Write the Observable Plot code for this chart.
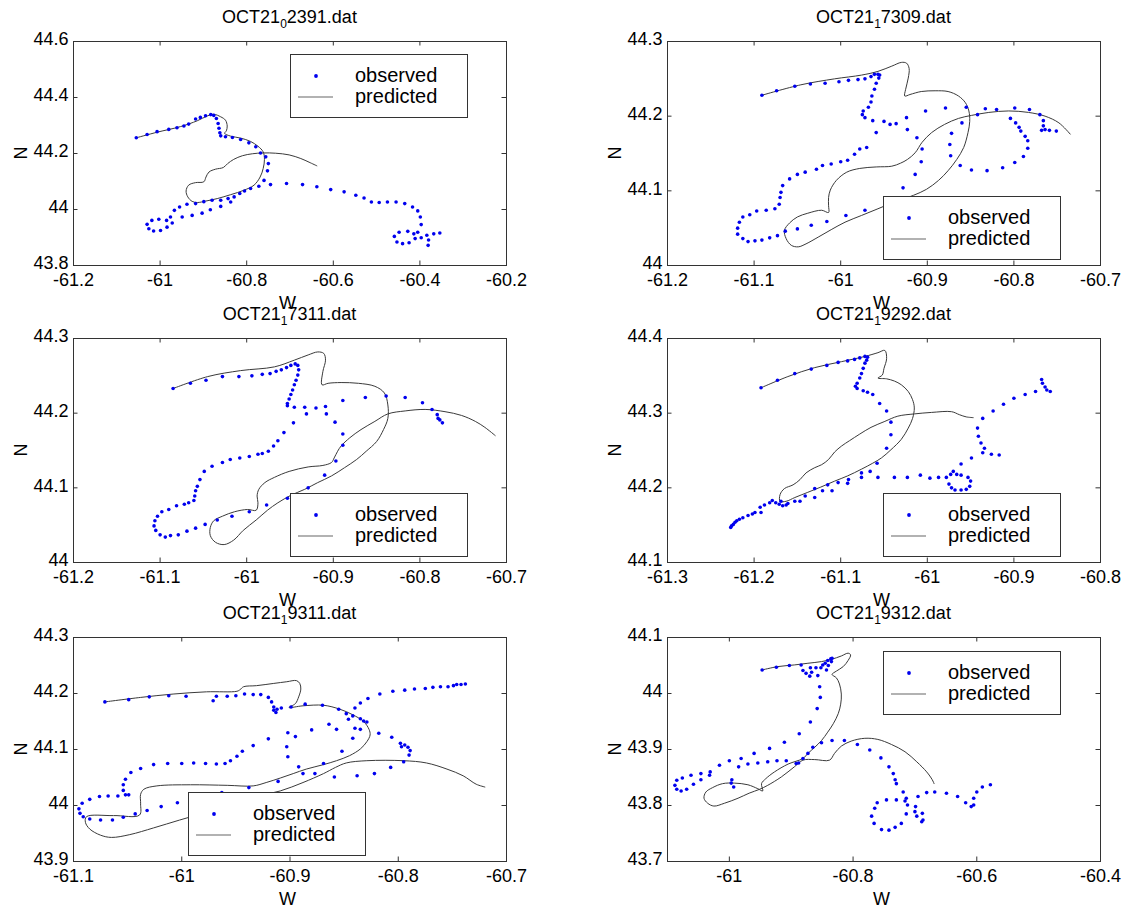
<!DOCTYPE html>
<html><head><meta charset="utf-8">
<script src="https://cdn.jsdelivr.net/npm/d3@7"></script>
<script src="https://cdn.jsdelivr.net/npm/@observablehq/plot@0.6"></script>
<style>
body{margin:0;background:#fff;}
#page{position:relative;width:1124px;height:911px;overflow:hidden;background:#fff;font-family:"Liberation Sans",Arial,Helvetica,sans-serif;}
#overlay{position:absolute;left:0;top:0;pointer-events:none;}
</style></head><body><div id="page"></div>
<script>
// ---------- titles ----------
const titleMain = ["OCT21", "OCT21", "OCT21", "OCT21", "OCT21", "OCT21"];
const titleSub  = ["0", "1", "1", "1", "1", "1"];
const titleRest = ["2391.dat", "7309.dat", "7311.dat", "9292.dat", "9311.dat", "9312.dat"];
const legendLabels = ["observed", "predicted"];
const xLabel = "W", yLabel = "N";

// ---------- axes ----------
const xDomains = [[-61.2, -60.2], [-61.2, -60.7], [-61.2, -60.7], [-61.3, -60.8], [-61.1, -60.7], [-61.1, -60.4]];
const yDomains = [[43.8, 44.6], [44.0, 44.3], [44.0, 44.3], [44.1, 44.4], [43.9, 44.3], [43.7, 44.1]];
const xTicks = [
  [-61.2, -61, -60.8, -60.6, -60.4, -60.2],
  [-61.2, -61.1, -61, -60.9, -60.8, -60.7],
  [-61.2, -61.1, -61, -60.9, -60.8, -60.7],
  [-61.3, -61.2, -61.1, -61, -60.9, -60.8],
  [-61.1, -61, -60.9, -60.8, -60.7],
  [-61, -60.8, -60.6, -60.4]
];
const yTicks = [
  [43.8, 44, 44.2, 44.4, 44.6],
  [44, 44.1, 44.2, 44.3],
  [44, 44.1, 44.2, 44.3],
  [44.1, 44.2, 44.3, 44.4],
  [43.9, 44, 44.1, 44.2, 44.3],
  [43.7, 43.8, 43.9, 44, 44.1]
];

// ---------- data: [W lon, N lat] ----------
const obs1 = [[-61.055,44.256],[-61.030,44.268],[-61.007,44.278],[-60.980,44.286],[-60.961,44.292],[-60.945,44.298],[-60.934,44.305],[-60.918,44.323],[-60.907,44.329],[-60.895,44.335],[-60.883,44.339],[-60.876,44.336],[-60.870,44.325],[-60.866,44.307],[-60.864,44.290],[-60.862,44.274],[-60.860,44.263],[-60.849,44.260],[-60.833,44.257],[-60.814,44.250],[-60.795,44.238],[-60.779,44.224],[-60.768,44.202],[-60.756,44.188],[-60.750,44.164],[-60.752,44.138],[-60.760,44.104],[-60.772,44.083],[-60.791,44.075],[-60.805,44.066],[-60.816,44.057],[-60.829,44.045],[-60.843,44.039],[-60.860,44.033],[-60.880,44.033],[-60.899,44.028],[-60.918,44.021],[-60.938,44.019],[-60.955,44.009],[-60.967,43.997],[-60.976,43.973],[-60.985,43.961],[-61.003,43.965],[-61.019,43.961],[-61.030,43.947],[-61.026,43.931],[-61.015,43.923],[-60.999,43.925],[-60.984,43.937],[-60.972,43.952],[-60.949,43.973],[-60.926,43.979],[-60.903,43.987],[-60.884,43.999],[-60.860,44.011],[-60.837,44.027],[-60.745,44.089],[-60.708,44.093],[-60.671,44.089],[-60.638,44.081],[-60.606,44.071],[-60.575,44.063],[-60.548,44.051],[-60.529,44.041],[-60.512,44.027],[-60.494,44.025],[-60.475,44.027],[-60.455,44.027],[-60.435,44.021],[-60.417,44.009],[-60.405,43.995],[-60.399,43.973],[-60.397,43.946],[-60.405,43.919],[-60.414,43.913],[-60.428,43.922],[-60.448,43.919],[-60.459,43.904],[-60.453,43.884],[-60.440,43.878],[-60.425,43.881],[-60.411,43.896],[-60.397,43.899],[-60.384,43.908],[-60.380,43.891],[-60.381,43.872],[-60.368,43.913],[-60.354,43.916]];
const pred1 = [[-61.055,44.256],[-61.007,44.276],[-60.953,44.296],[-60.914,44.317],[-60.891,44.334],[-60.876,44.340],[-60.860,44.331],[-60.849,44.319],[-60.845,44.298],[-60.847,44.281],[-60.851,44.272],[-60.837,44.262],[-60.814,44.255],[-60.791,44.243],[-60.774,44.226],[-60.762,44.206],[-60.759,44.179],[-60.762,44.146],[-60.769,44.116],[-60.783,44.087],[-60.806,44.069],[-60.837,44.053],[-60.868,44.039],[-60.895,44.030],[-60.914,44.025],[-60.926,44.029],[-60.936,44.045],[-60.940,44.066],[-60.934,44.087],[-60.918,44.096],[-60.899,44.099],[-60.894,44.116],[-60.887,44.134],[-60.872,44.144],[-60.854,44.150],[-60.844,44.164],[-60.830,44.179],[-60.810,44.192],[-60.787,44.199],[-60.762,44.202],[-60.733,44.201],[-60.702,44.195],[-60.675,44.182],[-60.656,44.169],[-60.638,44.156]];

const obs2 = [[-61.091,44.228],[-61.074,44.234],[-61.053,44.240],[-61.035,44.243],[-61.018,44.244],[-61.002,44.246],[-60.991,44.248],[-60.980,44.249],[-60.972,44.250],[-60.965,44.253],[-60.961,44.256],[-60.957,44.256],[-60.955,44.255],[-60.956,44.251],[-60.959,44.244],[-60.961,44.236],[-60.964,44.227],[-60.965,44.219],[-60.968,44.212],[-60.974,44.207],[-60.975,44.202],[-60.972,44.198],[-60.963,44.194],[-60.950,44.193],[-60.943,44.189],[-60.936,44.190],[-60.924,44.198],[-60.923,44.182],[-60.912,44.171],[-60.906,44.156],[-60.907,44.139],[-60.914,44.122],[-60.928,44.104],[-60.902,44.207],[-60.879,44.211],[-60.855,44.212],[-60.860,44.191],[-60.872,44.177],[-60.874,44.162],[-60.873,44.147],[-60.862,44.134],[-60.849,44.128],[-60.831,44.127],[-60.813,44.131],[-60.799,44.138],[-60.789,44.146],[-60.784,44.157],[-60.784,44.167],[-60.787,44.173],[-60.792,44.180],[-60.794,44.185],[-60.798,44.191],[-60.804,44.197],[-60.833,44.210],[-60.820,44.209],[-60.799,44.211],[-60.782,44.209],[-60.770,44.202],[-60.766,44.194],[-60.766,44.187],[-60.768,44.181],[-60.764,44.182],[-60.759,44.181],[-60.751,44.180],[-60.842,44.202],[-60.959,44.178],[-60.970,44.158],[-60.978,44.156],[-60.984,44.149],[-60.992,44.141],[-61.000,44.139],[-61.011,44.136],[-61.021,44.134],[-61.028,44.129],[-61.041,44.125],[-61.050,44.122],[-61.059,44.116],[-61.067,44.107],[-61.069,44.098],[-61.070,44.091],[-61.071,44.082],[-61.076,44.076],[-61.086,44.074],[-61.097,44.073],[-61.105,44.068],[-61.113,44.065],[-61.117,44.058],[-61.119,44.050],[-61.119,44.042],[-61.113,44.036],[-61.107,44.032],[-61.099,44.033],[-61.091,44.034],[-61.082,44.037],[-61.073,44.040],[-61.064,44.046],[-61.050,44.049],[-61.034,44.054],[-61.016,44.059],[-60.994,44.067],[-60.972,44.074]];
const pred2 = [[-61.091,44.228],[-61.046,44.242],[-61.007,44.250],[-60.976,44.255],[-60.957,44.260],[-60.941,44.267],[-60.930,44.272],[-60.924,44.271],[-60.921,44.264],[-60.922,44.251],[-60.925,44.236],[-60.926,44.227],[-60.920,44.229],[-60.907,44.233],[-60.891,44.234],[-60.876,44.233],[-60.864,44.227],[-60.856,44.218],[-60.852,44.207],[-60.851,44.193],[-60.853,44.178],[-60.858,44.158],[-60.866,44.142],[-60.876,44.127],[-60.887,44.114],[-60.901,44.102],[-60.916,44.094],[-60.938,44.085],[-60.957,44.076],[-60.976,44.067],[-60.995,44.058],[-61.011,44.048],[-61.026,44.038],[-61.040,44.029],[-61.049,44.025],[-61.057,44.027],[-61.063,44.036],[-61.065,44.047],[-61.059,44.057],[-61.050,44.065],[-61.038,44.070],[-61.022,44.074],[-61.014,44.071],[-61.014,44.080],[-61.014,44.091],[-61.012,44.101],[-61.005,44.114],[-60.993,44.125],[-60.978,44.130],[-60.959,44.132],[-60.941,44.133],[-60.931,44.137],[-60.923,44.142],[-60.914,44.151],[-60.906,44.165],[-60.895,44.178],[-60.880,44.189],[-60.864,44.197],[-60.849,44.201],[-60.829,44.205],[-60.806,44.207],[-60.783,44.205],[-60.764,44.200],[-60.748,44.191],[-60.735,44.176]];

const obs3 = [[-61.085,44.233],[-61.065,44.240],[-61.047,44.244],[-61.028,44.249],[-61.009,44.249],[-60.994,44.250],[-60.982,44.252],[-60.973,44.253],[-60.966,44.256],[-60.960,44.258],[-60.954,44.261],[-60.949,44.264],[-60.944,44.266],[-60.941,44.264],[-60.940,44.258],[-60.941,44.251],[-60.943,44.244],[-60.945,44.238],[-60.947,44.231],[-60.949,44.225],[-60.951,44.219],[-60.953,44.213],[-60.953,44.210],[-60.945,44.208],[-60.933,44.208],[-60.931,44.199],[-60.920,44.207],[-60.909,44.209],[-60.908,44.199],[-60.898,44.188],[-60.889,44.172],[-60.889,44.157],[-60.897,44.136],[-60.910,44.117],[-60.929,44.100],[-60.889,44.217],[-60.863,44.221],[-60.839,44.223],[-60.817,44.221],[-60.797,44.214],[-60.786,44.205],[-60.780,44.198],[-60.779,44.193],[-60.777,44.191],[-60.774,44.187],[-60.946,44.187],[-60.957,44.174],[-60.964,44.163],[-60.969,44.156],[-60.975,44.149],[-60.982,44.146],[-60.987,44.145],[-60.997,44.142],[-61.008,44.140],[-61.019,44.138],[-61.028,44.134],[-61.040,44.129],[-61.049,44.122],[-61.054,44.111],[-61.057,44.102],[-61.059,44.096],[-61.060,44.089],[-61.061,44.083],[-61.067,44.080],[-61.072,44.078],[-61.081,44.076],[-61.090,44.071],[-61.098,44.068],[-61.103,44.062],[-61.106,44.056],[-61.107,44.049],[-61.105,44.043],[-61.100,44.037],[-61.094,44.034],[-61.088,44.036],[-61.079,44.037],[-61.069,44.042],[-61.059,44.046],[-61.048,44.051],[-61.034,44.057],[-61.017,44.062],[-60.997,44.068],[-60.977,44.077],[-60.953,44.086]];
const pred3 = [[-61.085,44.233],[-61.045,44.249],[-61.007,44.257],[-60.968,44.262],[-60.945,44.271],[-60.929,44.278],[-60.918,44.282],[-60.911,44.280],[-60.909,44.271],[-60.912,44.256],[-60.913,44.238],[-60.906,44.240],[-60.891,44.241],[-60.871,44.240],[-60.852,44.236],[-60.841,44.227],[-60.837,44.211],[-60.837,44.193],[-60.842,44.178],[-60.850,44.162],[-60.862,44.149],[-60.873,44.138],[-60.887,44.127],[-60.902,44.116],[-60.918,44.107],[-60.933,44.098],[-60.949,44.090],[-60.964,44.080],[-60.976,44.070],[-60.989,44.057],[-61.004,44.043],[-61.015,44.030],[-61.026,44.024],[-61.036,44.027],[-61.042,44.036],[-61.042,44.047],[-61.038,44.056],[-61.028,44.062],[-61.014,44.068],[-60.999,44.071],[-60.989,44.070],[-60.987,44.080],[-60.988,44.089],[-60.986,44.098],[-60.979,44.107],[-60.968,44.114],[-60.951,44.122],[-60.929,44.128],[-60.912,44.130],[-60.902,44.134],[-60.899,44.140],[-60.895,44.149],[-60.891,44.156],[-60.881,44.167],[-60.868,44.178],[-60.852,44.189],[-60.837,44.199],[-60.817,44.203],[-60.794,44.205],[-60.771,44.202],[-60.752,44.197],[-60.736,44.189],[-60.725,44.181],[-60.713,44.170]];

const obs4 = [[-61.192,44.334],[-61.173,44.344],[-61.153,44.353],[-61.134,44.359],[-61.116,44.364],[-61.103,44.368],[-61.092,44.370],[-61.084,44.372],[-61.078,44.374],[-61.072,44.376],[-61.069,44.375],[-61.070,44.371],[-61.072,44.367],[-61.074,44.360],[-61.076,44.353],[-61.078,44.347],[-61.081,44.340],[-61.083,44.336],[-61.081,44.333],[-61.074,44.330],[-61.069,44.328],[-61.063,44.325],[-61.055,44.313],[-61.047,44.303],[-61.042,44.288],[-61.042,44.271],[-61.047,44.253],[-61.058,44.233],[-61.066,44.222],[-61.076,44.220],[-61.076,44.214],[-61.091,44.211],[-61.092,44.206],[-61.103,44.207],[-61.110,44.196],[-61.115,44.204],[-61.121,44.196],[-61.130,44.199],[-61.130,44.187],[-61.141,44.189],[-61.147,44.182],[-61.153,44.182],[-61.161,44.179],[-61.163,44.177],[-61.167,44.176],[-61.171,44.178],[-61.175,44.180],[-61.169,44.182],[-61.179,44.183],[-61.182,44.180],[-61.188,44.177],[-61.193,44.174],[-61.192,44.167],[-61.199,44.167],[-61.202,44.165],[-61.207,44.163],[-61.213,44.160],[-61.217,44.158],[-61.220,44.156],[-61.222,44.154],[-61.224,44.151],[-61.226,44.149],[-61.227,44.147],[-61.057,44.214],[-61.038,44.214],[-61.023,44.214],[-61.008,44.217],[-60.997,44.213],[-60.987,44.214],[-60.978,44.214],[-60.973,44.218],[-60.966,44.218],[-60.961,44.217],[-60.953,44.214],[-60.950,44.209],[-60.951,44.202],[-60.955,44.198],[-60.961,44.197],[-60.968,44.197],[-60.972,44.200],[-60.975,44.205],[-60.970,44.222],[-60.961,44.232],[-60.949,44.240],[-60.936,44.247],[-60.926,44.245],[-60.917,44.244],[-60.934,44.253],[-60.938,44.260],[-60.941,44.269],[-60.942,44.280],[-60.936,44.293],[-60.924,44.303],[-60.912,44.312],[-60.900,44.320],[-60.887,44.325],[-60.875,44.329],[-60.862,44.331],[-60.858,44.329],[-60.868,44.345],[-60.867,44.340],[-60.864,44.335]];
const pred4 = [[-61.192,44.334],[-61.161,44.349],[-61.130,44.361],[-61.099,44.369],[-61.072,44.376],[-61.057,44.381],[-61.049,44.384],[-61.047,44.373],[-61.050,44.360],[-61.052,44.351],[-61.057,44.347],[-61.047,44.346],[-61.038,44.343],[-61.030,44.338],[-61.022,44.329],[-61.017,44.318],[-61.015,44.307],[-61.017,44.293],[-61.022,44.280],[-61.030,44.265],[-61.042,44.251],[-61.053,44.240],[-61.063,44.233],[-61.076,44.225],[-61.092,44.216],[-61.107,44.209],[-61.123,44.201],[-61.138,44.194],[-61.153,44.187],[-61.163,44.182],[-61.170,44.182],[-61.170,44.191],[-61.165,44.199],[-61.155,44.204],[-61.147,44.211],[-61.140,44.220],[-61.130,44.227],[-61.122,44.231],[-61.114,44.238],[-61.107,44.248],[-61.099,44.256],[-61.090,44.263],[-61.078,44.272],[-61.065,44.281],[-61.049,44.289],[-61.034,44.296],[-61.015,44.299],[-60.995,44.301],[-60.972,44.302],[-60.963,44.298],[-60.955,44.295],[-60.947,44.294]];

const obs5 = [[-61.071,44.185],[-61.049,44.189],[-61.030,44.194],[-61.012,44.196],[-60.996,44.195],[-60.971,44.187],[-60.968,44.195],[-60.958,44.195],[-60.950,44.196],[-60.942,44.199],[-60.934,44.198],[-60.927,44.198],[-60.920,44.193],[-60.917,44.185],[-60.915,44.176],[-60.915,44.170],[-60.913,44.166],[-60.912,44.172],[-60.908,44.174],[-60.899,44.176],[-60.886,44.181],[-60.870,44.179],[-60.855,44.172],[-60.848,44.164],[-60.840,44.174],[-60.835,44.183],[-60.828,44.191],[-60.817,44.199],[-60.805,44.204],[-60.794,44.206],[-60.785,44.208],[-60.775,44.209],[-60.768,44.211],[-60.761,44.212],[-60.754,44.212],[-60.749,44.214],[-60.746,44.216],[-60.742,44.216],[-60.738,44.217],[-60.835,44.155],[-60.832,44.151],[-60.829,44.149],[-60.842,44.160],[-60.846,44.154],[-60.840,44.138],[-60.835,44.136],[-60.818,44.129],[-60.806,44.122],[-60.798,44.111],[-60.797,44.105],[-60.794,44.108],[-60.791,44.104],[-60.789,44.098],[-60.790,44.090],[-60.795,44.078],[-60.807,44.068],[-60.822,44.057],[-60.838,44.053],[-60.859,44.051],[-60.869,44.075],[-60.877,44.057],[-60.888,44.057],[-60.892,44.069],[-60.902,44.087],[-60.903,44.105],[-60.902,44.130],[-60.895,44.123],[-60.880,44.135],[-60.864,44.145],[-60.857,44.136],[-60.842,44.120],[-60.852,44.097],[-60.911,44.043],[-60.920,44.119],[-60.934,44.107],[-60.944,44.097],[-60.949,44.088],[-60.955,44.080],[-60.960,44.075],[-60.968,44.074],[-60.978,44.075],[-60.989,44.076],[-61.000,44.075],[-61.013,44.075],[-61.026,44.073],[-61.038,44.066],[-61.047,44.059],[-61.052,44.047],[-61.054,44.037],[-61.054,44.027],[-61.052,44.019],[-61.049,44.019],[-61.059,44.017],[-61.068,44.017],[-61.076,44.016],[-61.085,44.011],[-61.092,44.004],[-61.095,43.994],[-61.094,43.986],[-61.091,43.980],[-61.085,43.976],[-61.075,43.974],[-61.064,43.974],[-61.054,43.979],[-61.043,43.985],[-61.032,43.991],[-61.019,43.998],[-61.004,44.005],[-60.963,44.023],[-60.938,44.032]];
const pred5 = [[-61.071,44.185],[-61.038,44.193],[-61.008,44.199],[-60.977,44.203],[-60.949,44.204],[-60.946,44.207],[-60.943,44.212],[-60.931,44.214],[-60.915,44.218],[-60.903,44.221],[-60.894,44.223],[-60.891,44.218],[-60.890,44.208],[-60.892,44.194],[-60.895,44.182],[-60.901,44.175],[-60.888,44.178],[-60.869,44.179],[-60.854,44.172],[-60.842,44.162],[-60.832,44.150],[-60.827,44.136],[-60.826,44.126],[-60.829,44.114],[-60.835,44.101],[-60.845,44.089],[-60.857,44.080],[-60.869,44.073],[-60.885,44.065],[-60.897,44.057],[-60.909,44.049],[-60.922,44.041],[-60.934,44.035],[-60.958,44.036],[-60.992,44.037],[-61.023,44.035],[-61.035,44.029],[-61.038,44.020],[-61.038,44.003],[-61.039,43.983],[-61.063,43.982],[-61.088,43.980],[-61.089,43.970],[-61.085,43.958],[-61.075,43.947],[-61.065,43.943],[-61.048,43.948],[-61.026,43.960],[-61.002,43.974],[-60.977,43.988],[-60.952,44.003],[-60.931,44.016],[-60.909,44.026],[-60.888,44.041],[-60.869,44.057],[-60.858,44.068],[-60.848,44.076],[-60.829,44.080],[-60.795,44.080],[-60.774,44.076],[-60.755,44.065],[-60.740,44.053],[-60.728,44.038],[-60.720,44.033]];

const obs6 = [[-60.947,44.042],[-60.924,44.047],[-60.903,44.050],[-60.884,44.051],[-60.881,44.041],[-60.876,44.036],[-60.870,44.031],[-60.867,44.038],[-60.869,44.046],[-60.860,44.046],[-60.857,44.032],[-60.852,44.046],[-60.849,44.051],[-60.845,44.054],[-60.841,44.059],[-60.836,44.062],[-60.834,44.063],[-60.835,44.057],[-60.840,44.050],[-60.843,44.042],[-60.854,44.012],[-60.853,43.993],[-60.858,43.973],[-60.869,43.949],[-60.887,43.928],[-60.911,43.913],[-60.935,43.902],[-60.960,43.893],[-60.981,43.884],[-61.000,43.880],[-61.016,43.872],[-61.031,43.860],[-61.046,43.857],[-61.062,43.854],[-61.076,43.849],[-61.085,43.845],[-61.088,43.836],[-61.085,43.829],[-61.078,43.826],[-61.069,43.829],[-61.058,43.838],[-61.046,43.846],[-61.032,43.854],[-60.834,43.916],[-60.851,43.912],[-60.865,43.904],[-60.873,43.893],[-60.881,43.884],[-60.888,43.876],[-60.892,43.875],[-60.908,43.880],[-60.923,43.880],[-60.938,43.878],[-60.954,43.876],[-60.970,43.874],[-60.985,43.869],[-60.996,43.846],[-60.997,43.840],[-60.993,43.833],[-60.814,43.916],[-60.793,43.909],[-60.773,43.899],[-60.755,43.885],[-60.742,43.869],[-60.735,43.857],[-60.732,43.846],[-60.730,43.839],[-60.719,43.824],[-60.714,43.813],[-60.712,43.801],[-60.714,43.785],[-60.722,43.768],[-60.732,43.761],[-60.742,43.756],[-60.754,43.757],[-60.766,43.768],[-60.770,43.781],[-60.765,43.795],[-60.761,43.805],[-60.746,43.810],[-60.730,43.810],[-60.716,43.808],[-60.699,43.798],[-60.700,43.789],[-60.697,43.781],[-60.688,43.786],[-60.687,43.774],[-60.689,43.771],[-60.695,43.816],[-60.681,43.823],[-60.668,43.824],[-60.649,43.822],[-60.631,43.816],[-60.618,43.805],[-60.609,43.798],[-60.605,43.801],[-60.605,43.813],[-60.600,43.824],[-60.591,43.833],[-60.578,43.837]];
const pred6 = [[-60.947,44.042],[-60.922,44.048],[-60.895,44.051],[-60.873,44.054],[-60.851,44.057],[-60.835,44.061],[-60.819,44.067],[-60.808,44.072],[-60.804,44.069],[-60.808,44.059],[-60.816,44.048],[-60.827,44.040],[-60.834,44.034],[-60.827,44.028],[-60.822,44.017],[-60.819,43.999],[-60.820,43.981],[-60.824,43.964],[-60.832,43.946],[-60.841,43.931],[-60.851,43.916],[-60.862,43.904],[-60.873,43.893],[-60.881,43.884],[-60.905,43.874],[-60.927,43.860],[-60.941,43.848],[-60.948,43.839],[-60.946,43.826],[-60.954,43.830],[-60.970,43.837],[-60.992,43.840],[-61.011,43.839],[-61.027,43.832],[-61.038,43.824],[-61.041,43.813],[-61.035,43.804],[-61.025,43.799],[-61.008,43.804],[-60.986,43.813],[-60.968,43.822],[-60.951,43.829],[-60.938,43.836],[-60.916,43.851],[-60.895,43.869],[-60.881,43.881],[-60.862,43.882],[-60.838,43.881],[-60.830,43.893],[-60.819,43.906],[-60.803,43.915],[-60.781,43.920],[-60.760,43.918],[-60.738,43.909],[-60.716,43.896],[-60.697,43.878],[-60.681,43.860],[-60.672,43.846],[-60.669,43.839]];

const observed = [obs1, obs2, obs3, obs4, obs5, obs6];
const predicted = [pred1, pred2, pred3, pred4, pred5, pred6];

// ---------- layout ----------
const FW = 433, FH = 224;               // plot frame size
const frameLeft = [73, 667];
const frameTop = [41, 338, 637];
const legendPos = [[290, 54], [883, 196], [290, 493], [883, 493], [188, 792], [883, 651]];
const ML = 60, MR = 30, MT = 12, MB = 40;
const FONT = '"Liberation Sans", Arial, Helvetica, sans-serif';
const DOT = "#0000ee", LINE = "#3a3a3a", AX = "#333";

const page = document.getElementById("page");

for (let i = 0; i < 6; i++) {
  const col = i % 2, row = Math.floor(i / 2);
  const fx = frameLeft[col], fy = frameTop[row];
  const svg = Plot.plot({
    width: FW + ML + MR, height: FH + MT + MB,
    marginLeft: ML, marginRight: MR, marginTop: MT, marginBottom: MB,
    x: {domain: xDomains[i]},
    y: {domain: yDomains[i]},
    style: {background: "transparent", overflow: "visible", fontFamily: FONT, fontSize: "18px", color: "#000"},
    marks: [
      Plot.line(predicted[i], {x: d => d[0], y: d => d[1], stroke: LINE, strokeWidth: 1, curve: "catmull-rom"}),
      Plot.dot(observed[i], {x: d => d[0], y: d => d[1], r: 1.8, fill: DOT, stroke: "none"}),
      Plot.frame({stroke: AX, strokeWidth: 1}),
      Plot.tickX(xTicks[i], {x: d => d, insetTop: FH - 4.5, stroke: AX}),
      Plot.tickX(xTicks[i], {x: d => d, insetBottom: FH - 4.5, stroke: AX}),
      Plot.tickY(yTicks[i], {y: d => d, insetRight: FW - 4.5, stroke: AX}),
      Plot.tickY(yTicks[i], {y: d => d, insetLeft: FW - 4.5, stroke: AX}),
      Plot.axisX(xTicks[i], {anchor: "bottom", tickSize: 0, tickPadding: 8, tickFormat: d => String(d), label: null}),
      Plot.axisY(yTicks[i], {anchor: "left", tickSize: 0, tickPadding: 5, dy: -2, tickFormat: d => String(d), label: null})
    ]
  });
  svg.style.position = "absolute";
  svg.style.left = (fx - ML) + "px";
  svg.style.top = (fy - MT) + "px";
  page.appendChild(svg);
}

// ---------- overlay: titles, axis labels, legends ----------
const ov = d3.select(page).append("svg").attr("id", "overlay")
  .attr("width", 1124).attr("height", 911)
  .style("font-family", FONT);

for (let i = 0; i < 6; i++) {
  const col = i % 2, row = Math.floor(i / 2);
  const fx = frameLeft[col], fy = frameTop[row];
  const cx = fx + FW / 2;
  // title
  const t = ov.append("text").attr("x", cx).attr("y", fy - 18)
    .attr("text-anchor", "middle").attr("font-size", 18).attr("fill", "#000");
  t.append("tspan").text(titleMain[i]);
  t.append("tspan").attr("font-size", 12).attr("dy", 5).text(titleSub[i]);
  t.append("tspan").attr("dy", -5).text(titleRest[i]);
  // x label
  ov.append("text").attr("x", cx - 2).attr("y", fy + FH + 44)
    .attr("text-anchor", "middle").attr("font-size", 18).attr("fill", "#000").text(xLabel);
  // y label
  ov.append("text").attr("transform", `translate(${fx - 52},${fy + FH / 2}) rotate(-90)`)
    .attr("text-anchor", "middle").attr("dy", "0.35em").attr("font-size", 18).attr("fill", "#000").text(yLabel);
  // legend
  const [lx, ly] = legendPos[i];
  const g = ov.append("g").attr("transform", `translate(${lx},${ly})`);
  g.append("rect").attr("x", 0.5).attr("y", 0.5).attr("width", 177).attr("height", 63)
    .attr("fill", "#fff").attr("stroke", AX).attr("stroke-width", 1);
  g.append("circle").attr("cx", 26).attr("cy", 22).attr("r", 1.9).attr("fill", DOT);
  g.append("line").attr("x1", 8).attr("x2", 43).attr("y1", 43).attr("y2", 43)
    .attr("stroke", "#999").attr("stroke-width", 1.3);
  g.append("text").attr("x", 65).attr("y", 28).attr("font-size", 20).attr("fill", "#000").text(legendLabels[0]);
  g.append("text").attr("x", 65).attr("y", 49).attr("font-size", 20).attr("fill", "#000").text(legendLabels[1]);
}
</script></body></html>
